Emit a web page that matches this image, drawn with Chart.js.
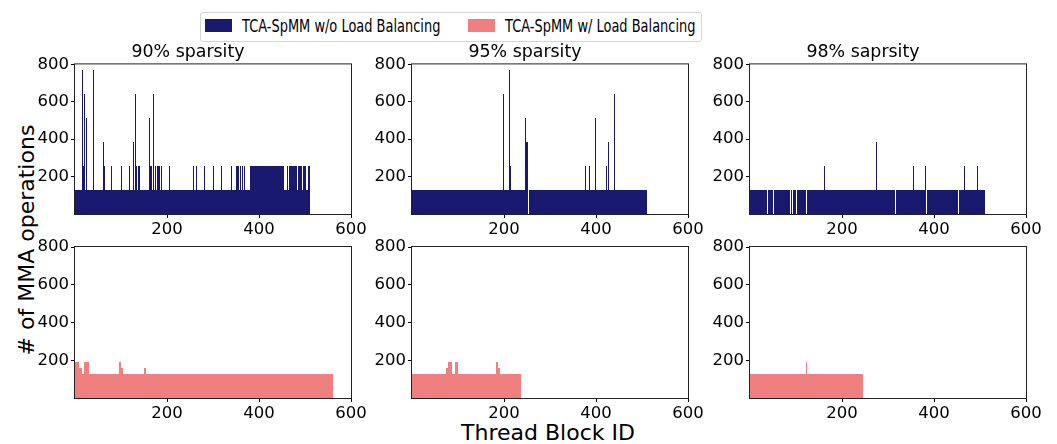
<!DOCTYPE html>
<html>
<head>
<meta charset="utf-8">
<script src="https://cdn.jsdelivr.net/npm/chart.js@4.4.0/dist/chart.umd.min.js"></script>
<style>
  body { margin: 0; width: 1057px; height: 444px; background: #fff; position: relative; overflow: hidden; font-family: 'DejaVu Sans', sans-serif; color: #000; }
  .panel { position: absolute; width: 361px; height: 211px; }
  #legend { position: absolute; left: 200px; top: 12px; width: 500px; height: 28px; border: 1px solid #d6d6d6; border-radius: 3px; background: #fff; }
  #legend .sw { position: absolute; top: 6px; width: 27px; height: 13px; }
  #legend .lt { position: absolute; top: 4px; font-size: 18px; line-height: 18px; white-space: nowrap; transform: scaleX(0.72); transform-origin: left center; }
  #ylabel { position: absolute; left: -123px; top: 229px; width: 300px; text-align: center; font-size: 22px; line-height: 22px; transform: rotate(-90deg); white-space: nowrap; }
  #xlabel { position: absolute; left: 398px; top: 422px; width: 300px; text-align: center; font-size: 22px; line-height: 22px; white-space: nowrap; }
</style>
</head>
<body>
<div id="legend"></div>
<div id="ylabel"># of MMA operations</div>
<div id="xlabel">Thread Block ID</div>
<div class="panel" style="left:15px;top:33px"><canvas id="c0" width="361" height="211"></canvas></div>
<div class="panel" style="left:352px;top:33px"><canvas id="c1" width="361" height="211"></canvas></div>
<div class="panel" style="left:690px;top:33px"><canvas id="c2" width="361" height="211"></canvas></div>
<div class="panel" style="left:15px;top:217px"><canvas id="c3" width="361" height="211"></canvas></div>
<div class="panel" style="left:352px;top:217px"><canvas id="c4" width="361" height="211"></canvas></div>
<div class="panel" style="left:690px;top:217px"><canvas id="c5" width="361" height="211"></canvas></div>
<script>
const seriesNames = ['TCA-SpMM w/o Load Balancing', 'TCA-SpMM w/ Load Balancing'];
const panelTitles = ['90% sparsity', '95% sparsity', '98% saprsity'];
const xTicks = [200, 400, 600];
const yTicks = [200, 400, 600, 800];

// number of thread blocks in each run
const blocksNoLB = [512, 512, 512];
const blocksLB = [561, 238, 246];
// MMA count shared by most blocks
const baseMMA = 128;

// [first block, last block, MMA count] where blocks differ from the base
const noLB90 = [[16,16,768],[18,18,256],[20,20,640],[24,24,512],[40,40,768],[63,63,384],[65,65,256],
  [79,79,256],[101,101,256],[118,118,256],[127,127,384],[131,131,640],[134,134,256],[138,138,256],
  [140,140,256],[161,161,512],[163,166,256],[170,170,640],[175,175,256],[180,181,256],[183,184,256],
  [188,188,256],[205,205,256],[257,257,256],[264,264,256],[281,281,256],[301,301,256],[319,319,256],
  [340,340,256],[351,351,256],[354,355,256],[359,359,256],[365,365,256],[368,369,256],[382,454,256],
  [462,462,256],[467,470,256],[472,476,256],[478,482,256],[486,488,256],[490,492,256],[496,496,256],
  [499,499,256],[502,502,256],[508,508,256],[510,510,256]];
const noLB95 = [[198,198,640],[211,211,768],[215,215,256],[247,247,512],[249,250,384],[378,378,256],
  [385,385,256],[399,399,512],[422,422,256],[428,428,384],[441,441,640]];
const noLB98 = [[162,162,256],[275,275,384],[355,355,256],[381,381,256],[466,466,256],[494,494,256]];
const LB90 = [[0,8,192],[9,15,160],[20,25,192],[28,29,192],[96,99,192],[100,103,160],[150,153,160]];
const LB95 = [[75,79,160],[80,85,192],[94,98,192],[184,185,192],[186,190,160]];
const LB98 = [[122,122,192]];

// blocks with no MMA work (white gaps)
const gaps90 = [];
const gaps95 = [204, 231, 253];
const gaps98 = [26, 38, 51, 65, 83, 88, 92, 101, 123, 133, 222, 233, 316, 384, 391, 402, 411, 430, 453];

const colors = ['#191970', '#f08080'];

Chart.defaults.font.family = "'DejaVu Sans', sans-serif";
Chart.defaults.color = '#000';

// snap bars to whole pixels, like matplotlib does
const snapBars = {
  id: 'snapBars',
  beforeDatasetsDraw(chart) {
    const bars = chart.getDatasetMeta(0).data;
    const vals = chart.data.datasets[0].data;
    bars.forEach(function (bar, i) {
      let l = Math.round(bar.x - bar.width / 2);
      let r = Math.round(bar.x + bar.width / 2);
      const v = vals[i].y;
      const prev = i > 0 ? vals[i - 1].y : 0;
      const next = i < vals.length - 1 ? vals[i + 1].y : 0;
      if (r === l && v > 0 && prev > 0 && next > 0 && (v > prev || v > next)) {
        l = Math.floor(bar.x);
        r = l + 1;
      }
      bar.x = (l + r) / 2;
      bar.width = r - l;
      bar.y = Math.round(bar.y);
      bar.base = Math.round(bar.base);
    });
  }
};

const frame = {
  id: 'frame',
  afterDatasetsDraw(chart) {
    const a = chart.chartArea;
    const ctx = chart.ctx;
    ctx.save();
    ctx.strokeStyle = '#222';
    ctx.lineWidth = 1;
    ctx.strokeRect(a.left - 0.5, a.top - 0.5, a.right - a.left + 1, a.bottom - a.top + 1);
    ctx.restore();
  }
};

function buildData(count, ranges, gaps) {
  const data = [];
  for (let i = 0; i < count; i++) data.push({ x: i, y: baseMMA });
  ranges.forEach(function (r) {
    for (let i = r[0]; i <= r[1]; i++) data[i].y = r[2];
  });
  gaps.forEach(function (i) { data[i].y = 0; });
  return data;
}

function axis(min, max, list, size) {
  return {
    type: 'linear',
    min: min,
    max: max,
    offset: false,
    afterBuildTicks: function (s) { s.ticks = list.map(function (v) { return { value: v }; }); },
    ticks: { color: '#000', font: { size: 16.5 }, padding: 2, maxRotation: 0, autoSkip: false },
    grid: { display: true, offset: false, drawOnChartArea: false, drawTicks: true, tickLength: 4, tickColor: '#000', tickWidth: 1 },
    border: { display: false },
    afterFit: size
  };
}

function makeChart(id, title, count, ranges, gaps, color) {
  new Chart(document.getElementById(id), {
    type: 'bar',
    data: {
      datasets: [{
        data: buildData(count, ranges, gaps),
        backgroundColor: color,
        borderWidth: 0,
        barPercentage: 1,
        categoryPercentage: 1,
        inflateAmount: 0
      }]
    },
    options: {
      responsive: false,
      animation: false,
      events: [],
      layout: { padding: { left: 10, right: 25, top: title ? 0 : 30, bottom: 0 } },
      plugins: {
        legend: { display: false },
        tooltip: { enabled: false },
        title: {
          display: !!title,
          text: title,
          color: '#000',
          font: { size: 17.4, weight: 'normal', lineHeight: 1 },
          padding: { top: 11, bottom: 3 }
        }
      },
      scales: {
        x: axis(0, 600, xTicks, function (s) { s.height = 30; s.paddingLeft = 0; s.paddingRight = 0; }),
        y: axis(0, 800, yTicks, function (s) { s.width = 50; s.paddingTop = 0; s.paddingBottom = 0; })
      }
    },
    plugins: [snapBars, frame]
  });
}

makeChart('c0', panelTitles[0], blocksNoLB[0], noLB90, gaps90, colors[0]);
makeChart('c1', panelTitles[1], blocksNoLB[1], noLB95, gaps95, colors[0]);
makeChart('c2', panelTitles[2], blocksNoLB[2], noLB98, gaps98, colors[0]);
makeChart('c3', '', blocksLB[0], LB90, [], colors[1]);
makeChart('c4', '', blocksLB[1], LB95, [], colors[1]);
makeChart('c5', '', blocksLB[2], LB98, [], colors[1]);

// legend
const legend = document.getElementById('legend');
const swatchLeft = [4, 267];
seriesNames.forEach(function (name, i) {
  const sw = document.createElement('span');
  sw.className = 'sw';
  sw.style.left = swatchLeft[i] + 'px';
  sw.style.background = colors[i];
  const lt = document.createElement('span');
  lt.className = 'lt';
  lt.style.left = (swatchLeft[i] + 37) + 'px';
  lt.textContent = name;
  legend.appendChild(sw);
  legend.appendChild(lt);
});
</script>
</body>
</html>
